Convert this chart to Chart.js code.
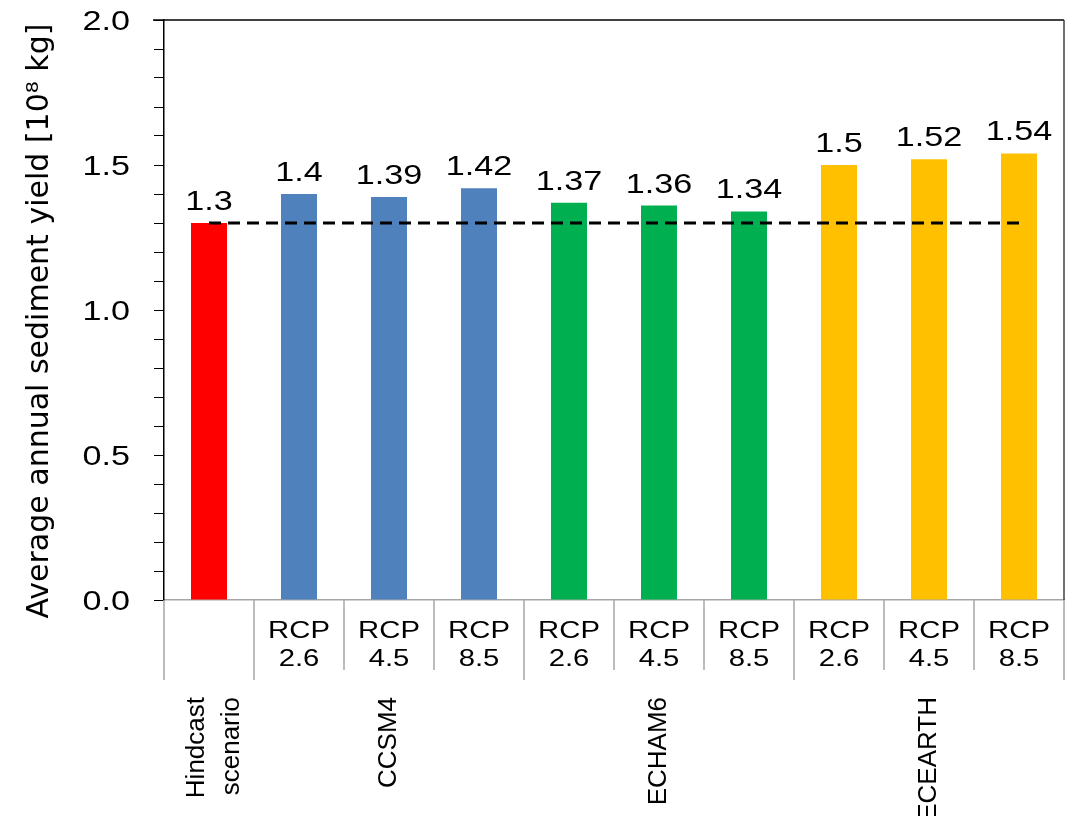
<!DOCTYPE html>
<html>
<head>
<meta charset="utf-8">
<script src="https://cdn.jsdelivr.net/npm/chart.js@4.4.0/dist/chart.umd.min.js"></script>
<style>
  html, body { margin: 0; padding: 0; background: #fff; }
  #wrap { width: 1074px; height: 816px; }
</style>
</head>
<body>
<div id="wrap"><canvas id="chart"></canvas></div>
<script>
// Chart values
const scenarios = ['Hindcast', 'RCP 2.6', 'RCP 4.5', 'RCP 8.5', 'RCP 2.6', 'RCP 4.5', 'RCP 8.5', 'RCP 2.6', 'RCP 4.5', 'RCP 8.5'];
const groupNames = ['Hindcast scenario', 'CCSM4', 'ECHAM6', 'ECEARTH'];
const groupSizes = [1, 3, 3, 3];
const sedimentYield = [1.3, 1.4, 1.39, 1.42, 1.37, 1.36, 1.34, 1.5, 1.52, 1.54];
const hindcastLevel = 1.3;
const yMin = 0;
const yMax = 2;
const yMinorStep = 0.1;
const yMajorStep = 0.5;

// Styles
const groupColors = ['#ff0000', '#4f81bd', '#00b050', '#ffc000'];
const SX = 1.22; // horizontal text in the source is stretched sideways
const FONT_ARIAL = '"Liberation Sans", Arial, sans-serif';

const barColors = [];
groupSizes.forEach((n, g) => { for (let k = 0; k < n; k++) barColors.push(groupColors[g]); });

function drawText(ctx, text, x, y, o) {
  ctx.save();
  ctx.translate(x, y);
  if (o.stretch !== false) ctx.scale(SX, 1);
  if (o.rotate) ctx.rotate(-Math.PI / 2);
  ctx.font = o.font;
  ctx.textAlign = o.align || 'center';
  ctx.textBaseline = o.baseline || 'alphabetic';
  ctx.fillStyle = '#000';
  ctx.fillText(text, 0, o.dy || 0);
  ctx.restore();
}

const axisText = {
  id: 'axisText',
  afterDraw(c) {
    const ctx = c.ctx;
    const { left, right, top, bottom } = c.chartArea;
    const x = c.scales.x;
    const y = c.scales.y;

    // frame: top and right edges
    ctx.save();
    ctx.lineWidth = 1.5;
    ctx.strokeStyle = '#000';
    ctx.beginPath();
    ctx.moveTo(left - 11, top);
    ctx.lineTo(right, top);
    ctx.stroke();
    ctx.strokeStyle = '#404040';
    ctx.beginPath();
    ctx.moveTo(right, top);
    ctx.lineTo(right, bottom);
    ctx.stroke();

    // category separators below the axis
    const bounds = [0];
    groupSizes.forEach((n) => bounds.push(bounds[bounds.length - 1] + n));
    ctx.strokeStyle = '#a6a6a6';
    for (let i = 0; i <= scenarios.length; i++) {
      let px;
      if (i === 0) px = left;
      else if (i === scenarios.length) px = right;
      else px = (x.getPixelForValue(i - 1) + x.getPixelForValue(i)) / 2;
      const long = bounds.includes(i);
      ctx.beginPath();
      ctx.moveTo(px, bottom);
      ctx.lineTo(px, long ? bottom + 80 : bottom + 70);
      ctx.stroke();
    }
    ctx.restore();

    // y tick labels
    y.ticks.forEach((t) => {
      const v = t.value;
      if (Math.abs(v / yMajorStep - Math.round(v / yMajorStep)) > 1e-6) return;
      drawText(ctx, v.toFixed(1), left - 34, y.getPixelForValue(v) + 10,
        { font: '28px ' + FONT_ARIAL, align: 'right' });
    });

    // y title
    drawText(ctx, 'Average annual sediment yield [10\u2078 kg]', 40, 321,
      { font: '30px "DejaVu Sans", Verdana, sans-serif', rotate: true, baseline: 'middle', stretch: false });

    // scenario labels
    scenarios.forEach((s, i) => {
      if (i === 0) return;
      const parts = s.split(' ');
      const cx = x.getPixelForValue(i);
      drawText(ctx, parts[0], cx, bottom + 38, { font: '24px ' + FONT_ARIAL });
      drawText(ctx, parts[1], cx, bottom + 66, { font: '24px ' + FONT_ARIAL });
    });

    // group labels, vertical
    let start = 0;
    groupNames.forEach((name, g) => {
      const n = groupSizes[g];
      const cx = (x.getPixelForValue(start) + x.getPixelForValue(start + n - 1)) / 2;
      const lines = n === 1 ? name.split(' ') : [name];
      const gap = 35;
      lines.forEach((ln, k) => {
        const dy = (k - (lines.length - 1) / 2) * gap;
        drawText(ctx, ln, cx + (lines.length > 1 ? 5 : 0), bottom + 97,
          { font: '26px ' + FONT_ARIAL, rotate: true, align: 'right', baseline: 'middle', dy: dy, stretch: false });
      });
      start += n;
    });

    // value labels above bars
    sedimentYield.forEach((v, i) => {
      drawText(ctx, String(v), x.getPixelForValue(i), y.getPixelForValue(v) - 13,
        { font: '28px ' + FONT_ARIAL });
    });
  }
};

new Chart(document.getElementById('chart'), {
  type: 'bar',
  data: {
    labels: scenarios,
    datasets: [
      {
        type: 'line',
        data: scenarios.map(() => hindcastLevel),
        borderColor: '#000',
        borderWidth: 3,
        borderDash: [12, 7],
        pointRadius: 0,
        fill: false,
        order: 0,
      },
      {
        type: 'bar',
        data: sedimentYield,
        backgroundColor: barColors,
        borderWidth: 0,
        barPercentage: 0.4,
        categoryPercentage: 1,
        order: 1,
      },
    ],
  },
  options: {
    responsive: true,
    maintainAspectRatio: false,
    animation: false,
    layout: {
      padding: { top: 20, right: 10, left: 0, bottom: 0 },
    },
    scales: {
      x: {
        ticks: { display: false },
        grid: { display: false },
        border: { display: true, color: '#a6a6a6', width: 1.5 },
        afterFit: (s) => { s.height = 216; },
      },
      y: {
        min: yMin,
        max: yMax,
        ticks: { display: false, stepSize: yMinorStep },
        grid: { drawOnChartArea: false, drawTicks: true, tickLength: 10, color: '#000', lineWidth: 1 },
        border: { display: true, color: '#000', width: 1.5 },
        afterFit: (s) => { s.width = 164; },
      },
    },
    plugins: {
      legend: { display: false },
      tooltip: { enabled: false },
    },
  },
  plugins: [axisText],
});
</script>
</body>
</html>
